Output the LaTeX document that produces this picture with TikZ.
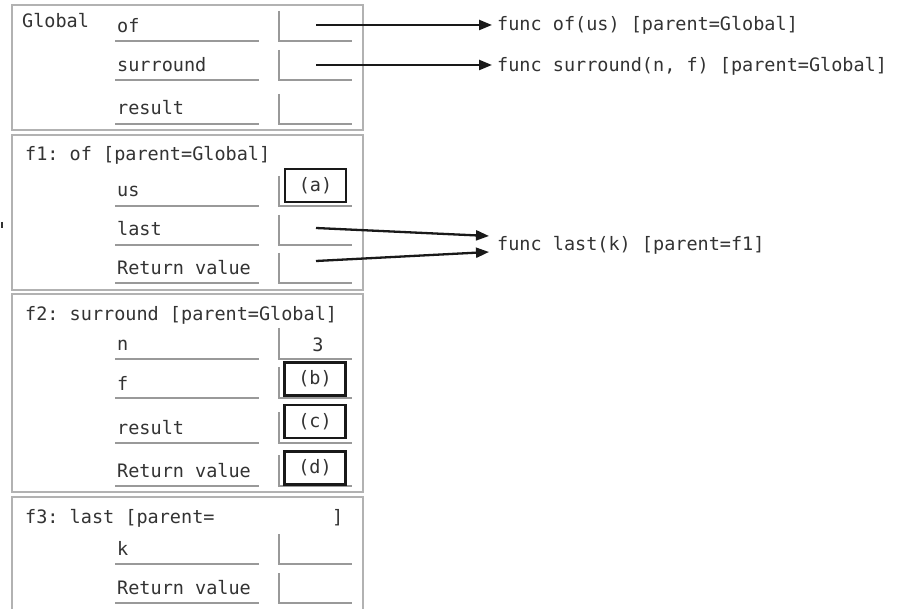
\documentclass[tikz,border=0pt]{standalone}
\usepackage{fontspec}
\setmonofont{DejaVu Sans Mono}
\usetikzlibrary{arrows.meta}
\tikzset{
  frame/.style={draw=gray!60, line width=1.7pt},
  lbl/.style={anchor=base west, inner sep=0pt, text=black!80, font=\fontsize{18.5}{22}\selectfont\ttfamily},
  flbl/.style={anchor=west, inner sep=0pt, text=black!80, font=\fontsize{18.5}{22}\selectfont\ttfamily},
  uline/.style={draw=gray!80, line width=1.4pt},
  slot/.style={draw=gray!80, line width=1.4pt},
  valbox/.style={draw=black!90, line width=2.6pt, minimum width=61pt, minimum height=33pt, inner sep=0pt, text=black!80, font=\fontsize{18.5}{22}\selectfont\ttfamily},
  valtxt/.style={inner sep=0pt, text=black!80, font=\fontsize{18.5}{22}\selectfont\ttfamily},
  arr/.style={-{Triangle[length=13pt,width=10pt]}, line width=2.3pt, draw=black!90}
}
\begin{document}
\begin{tikzpicture}[x=1pt,y=-1pt]
\clip (0,0) rectangle (907,609);
\fill[white] (0,0) rectangle (907,609);

% frames
\draw[frame] (12,5) rectangle (363,130);
\draw[frame] (12,135) rectangle (363,290);
\draw[frame] (12,294) rectangle (363,492);
\draw[frame] (12,497) rectangle (363,630);

% small mark on the left
\draw[line width=1.8pt, black!80] (2,222) -- (2,228);

% ---- Global frame
\node[lbl] (gtitle) at (22,28) {Global};
\node[lbl] (gof) at (117,33) {of};
\node[lbl] (gsur) at (117,72) {surround};
\node[lbl] (gres) at (117,115) {result};
\foreach \u in {41,80,124}{
  \draw[uline] (115,\u) -- (259,\u);
  \draw[slot] (279,\u-30) -- (279,\u) -- (352,\u);
}

% ---- f1 frame
\node[lbl] (f1title) at (25,161) {f1: of [parent=Global]};
\node[lbl] (f1us) at (117,197) {us};
\node[lbl] (f1last) at (117,236) {last};
\node[lbl] (f1rv) at (117,275) {Return value};
\foreach \u in {206,245,283}{
  \draw[uline] (115,\u) -- (259,\u);
  \draw[slot] (279,\u-30) -- (279,\u) -- (352,\u);
}
\node[valbox] (boxa) at (315.5,185.5) {(a)};

% ---- f2 frame
\node[lbl] (f2title) at (25,321) {f2: surround [parent=Global]};
\node[lbl] (f2n) at (117,351) {n};
\node[lbl] (f2f) at (117,390) {f};
\node[lbl] (f2res) at (117,434) {result};
\node[lbl] (f2rv) at (117,477) {Return value};
\foreach \u in {359,398,443,486}{
  \draw[uline] (115,\u) -- (259,\u);
  \draw[slot] (279,\u-31) -- (279,\u) -- (352,\u);
}
\node[valtxt] (nval) at (318,345) {3};
\node[valbox] (boxb) at (315,379) {(b)};
\node[valbox] (boxc) at (315,421.5) {(c)};
\node[valbox] (boxd) at (315,468) {(d)};

% ---- f3 frame
\node[lbl] (f3title) at (25,523) {f3: last [parent=};
\node[lbl] (f3close) at (332,523) {]};
\node[lbl] (f3k) at (117,555) {k};
\node[lbl] (f3rv) at (117,594) {Return value};
\foreach \u in {564,603}{
  \draw[uline] (115,\u) -- (259,\u);
  \draw[slot] (279,\u-30) -- (279,\u) -- (352,\u);
}

% ---- function objects
\node[flbl] (fnof) at (497,25) {func of(us) [parent=Global]};
\node[flbl] (fnsur) at (497,66) {func surround(n, f) [parent=Global]};
\node[flbl] (fnlast) at (497,245) {func last(k) [parent=f1]};

\coordinate (sof) at (316,25);
\coordinate (ssur) at (316,65);
\coordinate (slast) at (316,228);
\coordinate (srv) at (316,261);

\draw[arr] (sof) -- ([xshift=-5pt]fnof.west);
\draw[arr] (ssur) -- ([xshift=-5pt,yshift=1pt]fnsur.west);
\draw[arr] (slast) -- ([xshift=-8pt,yshift=9pt]fnlast.west);
\draw[arr] (srv) -- ([xshift=-8pt,yshift=-7pt]fnlast.west);
\end{tikzpicture}
\end{document}
